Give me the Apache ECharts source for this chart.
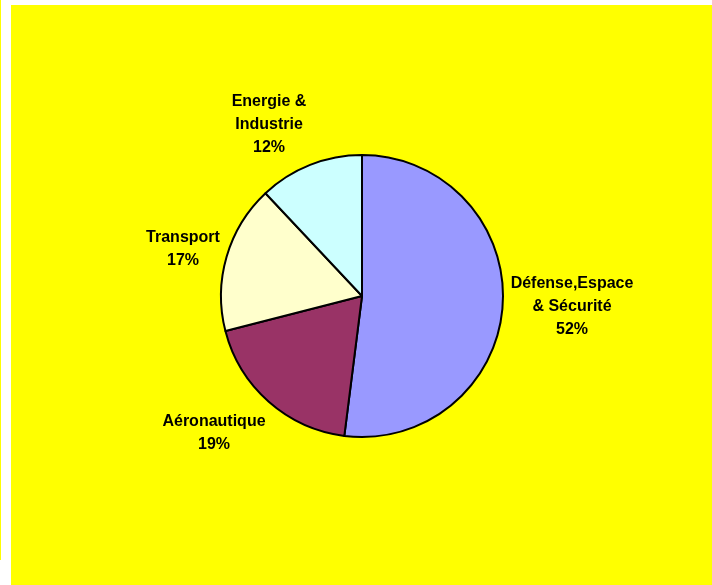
<!DOCTYPE html>
<html>
<head>
<meta charset="utf-8">
<script src="https://cdn.jsdelivr.net/npm/echarts@6/dist/echarts.min.js"></script>
<style>
  html, body { margin: 0; padding: 0; background: #ffffff; }
  #chart { width: 712px; height: 585px; }
</style>
</head>
<body>
<div id="chart"></div>
<script>
// Data
const categories = ['Défense,Espace\n& Sécurité', 'Aéronautique', 'Transport', 'Energie &\nIndustrie'];
const shares = [52, 19, 17, 12];
const sliceColors = ['#9999FF', '#993366', '#FFFFCC', '#CCFFFF'];

const cx = 362, cy = 296, R = 141;
// label centre offsets from the pie centre (Excel-like placement)
const labelOffsets = [[210, 11], [-148, 137], [-179, -47], [-93, -171]];

const chart = echarts.init(document.getElementById('chart'), null, { renderer: 'canvas' });
chart.setOption({
  backgroundColor: '#ffffff',
  animation: false,
  graphic: [
    { type: 'rect', z: -10, shape: { x: 11, y: 5, width: 701, height: 580 }, style: { fill: '#FFFF00' } },
    { type: 'rect', z: -10, shape: { x: 0, y: 0, width: 1, height: 560 }, style: { fill: '#FFFF00' } }
  ],
  series: [{
    type: 'pie',
    center: [cx, cy],
    radius: R,
    startAngle: 90,
    clockwise: true,
    itemStyle: { borderColor: '#000000', borderWidth: 2 },
    emphasis: { disabled: true },
    label: {
      show: true,
      position: 'outside',
      color: '#000000',
      fontFamily: 'Liberation Sans, Arial, sans-serif',
      fontWeight: 'bold',
      fontSize: 16,
      lineHeight: 23,
      align: 'center',
      formatter: p => p.name + '\n' + p.value + '%'
    },
    labelLine: { show: false },
    labelLayout: function (params) {
      const o = labelOffsets[params.dataIndex];
      return { x: cx + o[0], y: cy + o[1], align: 'center', verticalAlign: 'middle' };
    },
    data: categories.map((c, i) => ({ name: c, value: shares[i], itemStyle: { color: sliceColors[i] } }))
  }]
});
</script>
</body>
</html>
